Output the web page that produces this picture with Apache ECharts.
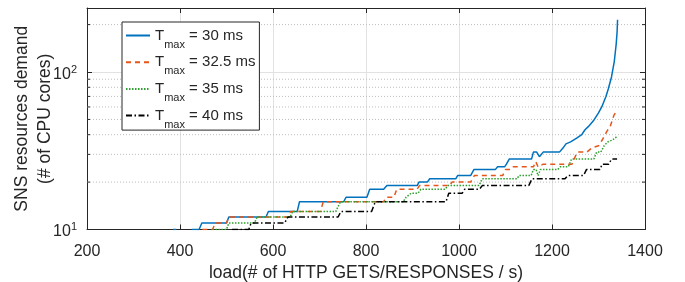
<!DOCTYPE html>
<html><head><meta charset="utf-8">
<script src="https://cdn.jsdelivr.net/npm/echarts@6/dist/echarts.min.js"></script>
<style>html,body{margin:0;padding:0;background:#fff}#c{width:685px;height:282px}</style>
</head><body><div id="c"></div>
<script>
// ---- data ----
const xMin = 200, xMax = 1400, xStep = 200;
const yMin = 10, yMax = 255;
const yMinorGrid = [20, 30, 40, 50, 60, 70, 80, 90, 200];
const legendNames = ['30 ms', '32.5 ms', '35 ms', '40 ms'];

const t30 = [[385,10],[392,10],[400,'-'],[425,10],[441,10],[447,11],[500,11],[505,12],[585,12],[590,13],[652,13],[657,15],
  [752,15],[757,16],[802,16],[808,18],[838,18],[845,19],[910,19],[914,20],[932,20],[937,21],[993,21],[997,22],[1025,22],
  [1032,24],[1078,24],[1083,25],[1098,25],[1102,26],[1104,26],[1108,28],[1156,28],[1160,31],[1167,31],[1173,29],[1177,29],
  [1181,31],[1216,31],[1224,33],[1230,35],[1240,36],[1253,38],[1264,40],[1271,43],[1278,45],[1289,49],[1300,55],[1307,60],
  [1316,70],[1321,78],[1328,93],[1334,117],[1338,150],[1340,180],[1341,215]];
const t325 = [[448,10],[470,10],[476,11],[500,11],[505,12],[633,12],[638,13],[702,13],[708,15],[838,15],[843,16],[860,16],
  [866,18],[910,18],[915,19],[980,19],[985,20],[1025,20],[1033,22],[1094,22],[1100,24],[1110,24],[1115,25],[1160,25],
  [1165,27],[1170,25],[1181,26],[1243,26],[1254,31],[1275,31],[1286,33],[1300,34],[1308,37],[1318,42],[1325,45],[1333,53],[1340,57]];
const t35 = [[470,10],[500,10],[505,11],[560,11],[566,12],[637,12],[642,13],[735,13],[745,15],[880,15],[886,16],[897,17],
  [912,17],[918,18],[970,18],[976,19],[1043,19],[1050,21],[1125,21],[1129,22],[1155,22],[1160,24],[1166,24],[1170,22],
  [1175,24],[1212,24],[1218,25],[1235,25],[1242,28],[1290,28],[1296,31],[1305,31],[1312,34],[1320,36],[1330,37],[1340,39]];
const t40 = [[512,10],[548,10],[553,11],[625,11],[632,12],[740,12],[746,13],[812,13],[820,15],[972,15],[978,17],[1007,17],
  [1012,18],[1044,18],[1050,19],[1150,19],[1157,21],[1228,21],[1234,22],[1268,22],[1274,24],[1303,24],[1308,26],[1322,26],
  [1328,28],[1340,28]];

const FONT = "'Liberation Sans', Arial, Helvetica, sans-serif";
const INK = '#262626';

const chart = echarts.init(document.getElementById('c'), null, {renderer: 'canvas'});

function lineSeries(name, data, color, type, z) {
  return {
    name, type: 'line', data, showSymbol: false, symbol: 'none', animation: false,
    connectNulls: false, color, z,
    lineStyle: {color, width: 1.5, type}
  };
}

const option = {
  animation: false,
  backgroundColor: '#fff',
  textStyle: {fontFamily: FONT},
  grid: {left: 87, right: 40, top: 8, bottom: 52.5, containLabel: false, outerBoundsMode: 'none'},
  legend: {
    data: legendNames,
    orient: 'vertical', left: 122, top: 22,
    padding: [-1, 4, 0, 3],
    itemWidth: 24, itemHeight: 12, itemGap: -2.3,
    itemStyle: {color: 'rgba(0,0,0,0)', borderWidth: 0, opacity: 0},
    backgroundColor: '#fff', borderColor: INK, borderWidth: 1,
    formatter: n => '{t|T}{s|max}{t| = ' + n + '}',
    textStyle: {
      fontFamily: FONT, color: INK, fontSize: 15,
      rich: {
        t: {fontFamily: FONT, fontSize: 15, color: INK, lineHeight: 20},
        s: {fontFamily: FONT, fontSize: 11, color: INK, lineHeight: 20, padding: [18, 0, 0, 0]}
      }
    }
  },
  xAxis: [{
    type: 'value', min: xMin, max: xMax, interval: xStep, position: 'bottom',
    name: 'load(# of HTTP GETS/RESPONSES / s)', nameLocation: 'middle', nameGap: 26,
    nameTextStyle: {fontFamily: FONT, fontSize: 17.5, color: INK},
    axisLine: {onZero: false, lineStyle: {color: INK, width: 1}},
    axisTick: {inside: true, length: 5, lineStyle: {color: INK}},
    axisLabel: {fontFamily: FONT, fontSize: 16, color: INK, margin: 14, formatter: v => String(v)},
    splitLine: {show: true, lineStyle: {color: '#e2e2e2', width: 1}}
  }, {
    type: 'value', min: xMin, max: xMax, interval: xStep, position: 'top',
    axisLine: {onZero: false, lineStyle: {color: INK, width: 1}},
    axisTick: {inside: true, length: 5, lineStyle: {color: INK}},
    axisLabel: {show: false}, splitLine: {show: false}
  }],
  yAxis: [{
    type: 'log', logBase: 10, min: yMin, max: yMax, position: 'left',
    name: 'SNS resources demand\n(# of CPU cores)', nameLocation: 'middle', nameGap: 30,
    nameMoveOverlap: false,
    nameTextStyle: {fontFamily: FONT, fontSize: 17.5, color: INK, lineHeight: 23},
    axisLine: {lineStyle: {color: INK, width: 1}},
    axisTick: {inside: true, length: 5, lineStyle: {color: INK}},
    axisLabel: {
      margin: 10, color: INK, align: 'right',
      formatter: v => {
        const lg = Math.log10(v);
        if (Math.abs(lg - Math.round(lg)) > 1e-6) return '';
        return '{b|10}{e|' + Math.round(lg) + '}';
      },
      rich: {
        b: {fontFamily: FONT, fontSize: 16, color: INK, padding: [5, 0, 0, 0]},
        e: {fontFamily: FONT, fontSize: 11, color: INK, padding: [0, 0, 5, 0]}
      }
    },
    splitLine: {show: true, lineStyle: {color: '#e2e2e2', width: 1}}
  }, {
    type: 'log', logBase: 10, min: yMin, max: yMax, position: 'right',
    axisLine: {lineStyle: {color: INK, width: 1}},
    axisTick: {inside: true, length: 5, lineStyle: {color: INK}},
    axisLabel: {show: false}, splitLine: {show: false}
  }],
  series: [
    {
      type: 'custom', name: 'minor', xAxisIndex: 0, yAxisIndex: 0, silent: true, z: 1,
      data: yMinorGrid.map(v => [xMin, v]),
      renderItem: (params, api) => {
        const v = api.value(1);
        const a = api.coord([xMin, v]);
        const b = api.coord([xMax, v]);
        return {type: 'group', children: [
          {type: 'line', shape: {x1: a[0], y1: a[1], x2: b[0], y2: b[1]}, style: {stroke: '#bdbdbd', lineWidth: 1, lineDash: [1, 2]}},
          {type: 'line', shape: {x1: a[0], y1: a[1], x2: a[0] + 3, y2: a[1]}, style: {stroke: INK, lineWidth: 1}},
          {type: 'line', shape: {x1: b[0] - 3, y1: b[1], x2: b[0], y2: b[1]}, style: {stroke: INK, lineWidth: 1}}
        ]};
      }
    },
    lineSeries(legendNames[0], t30, '#0072BD', 'solid', 3),
    lineSeries(legendNames[1], t325, '#E5561A', [5, 4], 4),
    lineSeries(legendNames[2], t35, '#2CA02C', [1.5, 1.5], 5),
    lineSeries(legendNames[3], t40, '#000000', [6, 2.5, 1.5, 2.5], 6)
  ]
};
chart.setOption(option);
</script>
</body></html>
